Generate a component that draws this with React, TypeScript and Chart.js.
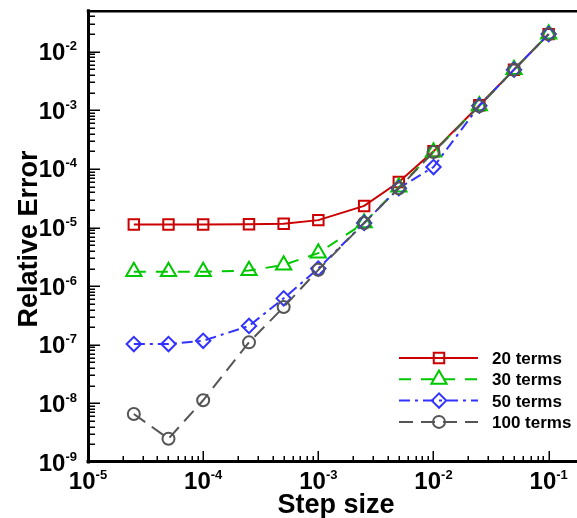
import React, { useEffect, useRef } from "react";
import { Chart, registerables } from "chart.js";

Chart.register(...registerables);

// ---------- data ----------
const stepSizes = [2.5e-5, 5e-5, 1e-4, 2.5e-4, 5e-4, 1e-3, 2.5e-3, 5e-3, 1e-2, 2.5e-2, 5e-2, 1e-1];
const err20 = [1.13e-5, 1.13e-5, 1.13e-5, 1.14e-5, 1.16e-5, 1.34e-5, 2.34e-5, 6.0e-5, 2.0e-4, 1.22e-3, 4.95e-3, 2.0e-2];
const err30 = [1.77e-6, 1.77e-6, 1.77e-6, 1.85e-6, 2.3e-6, 3.67e-6, 1.2e-5, 4.9e-5, 1.95e-4, 1.2e-3, 4.95e-3, 2.0e-2];
const err50 = [1.03e-7, 1.03e-7, 1.17e-7, 2.1e-7, 6.2e-7, 2.0e-6, 1.2e-5, 4.7e-5, 1.08e-4, 1.2e-3, 4.95e-3, 2.0e-2];
const err100 = [6.6e-9, 2.5e-9, 1.13e-8, 1.1e-7, 4.4e-7, 1.9e-6, 1.2e-5, 4.7e-5, 1.95e-4, 1.18e-3, 4.95e-3, 2.0e-2];
const seriesLabels = ["20 terms", "30 terms", "50 terms", "100 terms"];
const xDecades = [-5, -4, -3, -2, -1];
const yDecades = [-9, -8, -7, -6, -5, -4, -3, -2];
const xTitle = "Step size";
const yTitle = "Relative Error";

const X_MIN = 1e-5;
const X_MAX = 0.142;
const Y_MIN = 1e-9;
const Y_MAX = 5e-2;

const FONT = '"Liberation Sans", Arial, Helvetica, sans-serif';

type Sty = { color: string; dash: number[]; point: string; radius: number };
const styles: Sty[] = [
  { color: "#cc0000", dash: [], point: "rect", radius: 7.4 },
  { color: "#00c800", dash: [12, 10], point: "triangle", radius: 8.8 },
  { color: "#3232ff", dash: [11, 5, 3, 5], point: "rectRot", radius: 7.2 },
  { color: "#555555", dash: [14, 8], point: "circle", radius: 6 },
];

function markerPath(ctx: CanvasRenderingContext2D, shape: string, x: number, y: number, r: number) {
  ctx.beginPath();
  if (shape === "circle") {
    ctx.arc(x, y, r, 0, Math.PI * 2);
  } else if (shape === "rect") {
    const s = r * Math.SQRT1_2;
    ctx.rect(x - s, y - s, 2 * s, 2 * s);
  } else if (shape === "rectRot") {
    ctx.moveTo(x - r, y);
    ctx.lineTo(x, y - r);
    ctx.lineTo(x + r, y);
    ctx.lineTo(x, y + r);
    ctx.closePath();
  } else if (shape === "triangle") {
    let rad = 0;
    ctx.moveTo(x + Math.sin(rad) * r, y - Math.cos(rad) * r);
    rad += (2 * Math.PI) / 3;
    ctx.lineTo(x + Math.sin(rad) * r, y - Math.cos(rad) * r);
    rad += (2 * Math.PI) / 3;
    ctx.lineTo(x + Math.sin(rad) * r, y - Math.cos(rad) * r);
    ctx.closePath();
  }
}

const decoPlugin = {
  id: "deco",
  afterDraw(chart: any) {
    const ctx: CanvasRenderingContext2D = chart.ctx;
    const { left, top, bottom } = chart.chartArea;
    const fullW = chart.width;
    const xs = chart.scales.x;
    const ys = chart.scales.y;
    ctx.save();
    ctx.strokeStyle = "#000";
    ctx.fillStyle = "#000";
    ctx.setLineDash([]);

    // ticks (inward)
    ctx.lineWidth = 1.5;
    ctx.lineCap = "butt";
    for (const d of yDecades) {
      for (let k = 1; k <= 9; k++) {
        const v = k * Math.pow(10, d);
        if (v < Y_MIN * 0.999 || v > Y_MAX * 1.001) continue;
        const py = Math.round(ys.getPixelForValue(v)) + 0.25;
        const len = k === 1 ? 12 : 7;
        ctx.beginPath();
        ctx.moveTo(left, py);
        ctx.lineTo(left + len, py);
        ctx.stroke();
      }
    }
    for (const d of xDecades) {
      for (let k = 1; k <= 9; k++) {
        const v = k * Math.pow(10, d);
        if (v < X_MIN * 0.999 || v > X_MAX * 1.3) continue;
        const px = Math.round(xs.getPixelForValue(v)) + 0.25;
        const len = k === 1 ? 11 : 6;
        ctx.beginPath();
        ctx.moveTo(px, bottom);
        ctx.lineTo(px, bottom - len);
        ctx.stroke();
      }
    }

    // axis lines
    ctx.lineWidth = 3;
    ctx.lineCap = "square";
    ctx.beginPath();
    ctx.moveTo(left + 0.5, bottom);
    ctx.lineTo(left + 0.5, top);
    ctx.moveTo(left, bottom - 0.5);
    ctx.lineTo(fullW + 5, bottom - 0.5);
    ctx.stroke();
    ctx.lineWidth = 2.5;
    ctx.beginPath();
    ctx.moveTo(left, top + 0.5);
    ctx.lineTo(fullW + 5, top + 0.5);
    ctx.stroke();

    // tick labels
    const mainFont = `bold 24px ${FONT}`;
    const supFont = `bold 13px ${FONT}`;
    ctx.textBaseline = "alphabetic";
    ctx.textAlign = "left";
    for (const d of yDecades) {
      const py = ys.getPixelForValue(Math.pow(10, d));
      const sup = String(d);
      ctx.font = mainFont;
      const w1 = ctx.measureText("10").width;
      ctx.font = supFont;
      const w2 = ctx.measureText(sup).width;
      const x0 = 77 - w1 - w2;
      ctx.font = mainFont;
      ctx.fillText("10", x0, py + 8.5);
      ctx.font = supFont;
      ctx.fillText(sup, x0 + w1, py - 1.5);
    }
    for (const d of xDecades) {
      const px = xs.getPixelForValue(Math.pow(10, d));
      const sup = String(d);
      ctx.font = mainFont;
      const w1 = ctx.measureText("10").width;
      ctx.font = supFont;
      const w2 = ctx.measureText(sup).width;
      const x0 = px - (w1 + w2) / 2;
      ctx.font = mainFont;
      ctx.fillText("10", x0, 488.5);
      ctx.font = supFont;
      ctx.fillText(sup, x0 + w1, 478.5);
    }

    // axis titles
    ctx.font = `bold 27px ${FONT}`;
    ctx.textAlign = "center";
    ctx.fillText(xTitle, 336, 513);
    ctx.save();
    ctx.translate(37, 239);
    ctx.rotate(-Math.PI / 2);
    ctx.fillText(yTitle, 0, 0);
    ctx.restore();

    // legend
    const rowY0 = 358;
    const rowStep = 21.3;
    seriesLabels.forEach((lab, i) => {
      const st = styles[i];
      const cy = rowY0 + i * rowStep;
      ctx.strokeStyle = st.color;
      ctx.lineWidth = 2;
      ctx.lineCap = "butt";
      ctx.setLineDash(st.dash);
      ctx.beginPath();
      ctx.moveTo(399, cy);
      ctx.lineTo(478, cy);
      ctx.stroke();
      ctx.setLineDash([]);
      markerPath(ctx, st.point, 439, cy, st.radius);
      ctx.stroke();
      ctx.fillStyle = "#000";
      ctx.font = `bold 17px ${FONT}`;
      ctx.textAlign = "left";
      ctx.fillText(lab, 492, cy + 6);
    });

    ctx.restore();
  },
};

export default function App() {
  const ref = useRef<HTMLCanvasElement>(null);
  useEffect(() => {
    const canvas = ref.current;
    if (!canvas) return;
    const seriesValues = [err20, err30, err50, err100];
    const datasets = seriesValues.map((vals, i) => ({
      label: seriesLabels[i],
      data: stepSizes.map((x, j) => ({ x, y: vals[j] })),
      borderColor: styles[i].color,
      backgroundColor: "rgba(0,0,0,0)",
      borderWidth: 2,
      borderDash: styles[i].dash,
      pointStyle: styles[i].point as any,
      pointRadius: styles[i].radius,
      pointBorderColor: styles[i].color,
      pointBackgroundColor: "rgba(0,0,0,0)",
      pointBorderWidth: 2,
      tension: 0,
      fill: false,
      order: 3 - i,
      clip: false as any,
    }));
    const chart = new Chart(canvas, {
      type: "line",
      data: { datasets },
      options: {
        responsive: false,
        animation: false,
        devicePixelRatio: 1,
        layout: { padding: { left: 88, top: 10, right: 0, bottom: 56 } },
        scales: {
          x: { type: "logarithmic", min: X_MIN, max: X_MAX, display: false },
          y: { type: "logarithmic", min: Y_MIN, max: Y_MAX, display: false },
        },
        plugins: { legend: { display: false }, tooltip: { enabled: false } },
      },
      plugins: [decoPlugin],
    });
    return () => chart.destroy();
  }, []);
  return (
    <div style={{ position: "fixed", left: 0, top: 0, width: 577, height: 518, background: "#fff" }}>
      <canvas ref={ref} width={577} height={518} style={{ display: "block" }} />
    </div>
  );
}
